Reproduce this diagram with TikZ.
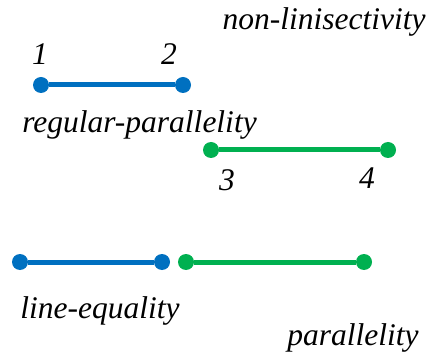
\documentclass[tikz,border=0pt]{standalone}
\usepackage{fontspec}
\setmainfont{Liberation Serif}
\definecolor{lblue}{HTML}{0070C0}
\definecolor{lgreen}{HTML}{00B050}
\begin{document}
\begin{tikzpicture}[x=1pt,y=-1pt,
  dot/.style={circle,fill=#1,minimum size=16pt,inner sep=0pt},
  seg/.style={draw=#1,line width=5pt},
  lab/.style={anchor=base,inner sep=0pt,font=\fontsize{31.5}{34}\selectfont\itshape}]
\useasboundingbox (0,0) rectangle (438,352);
\node[dot=lblue] (p1) at (41,85) {};
\node[dot=lblue] (p2) at (183,85) {};
\node[dot=lgreen] (p3) at (211,150) {};
\node[dot=lgreen] (p4) at (388,150) {};
\node[dot=lblue] (q1) at (20,262) {};
\node[dot=lblue] (q2) at (162,262) {};
\node[dot=lgreen] (r1) at (186,262) {};
\node[dot=lgreen] (r2) at (364,262) {};
\draw[seg=lblue] (p1) -- (p2);
\draw[seg=lgreen] (p3) -- (p4);
\draw[seg=lblue] (q1) -- (q2);
\draw[seg=lgreen] (r1) -- (r2);
\node[lab] (t0) at (324,30) {non-linisectivity};
\node[lab] (t1) at (40,65) {1};
\node[lab] (t2) at (169,65) {2};
\node[lab] (t3) at (139.5,133) {regular-parallelity};
\node[lab] (t4) at (227,191) {3};
\node[lab] (t5) at (367,189) {4};
\node[lab] (t6) at (100,318) {line-equality};
\node[lab] (t7) at (353,345) {parallelity};
\end{tikzpicture}
\end{document}
